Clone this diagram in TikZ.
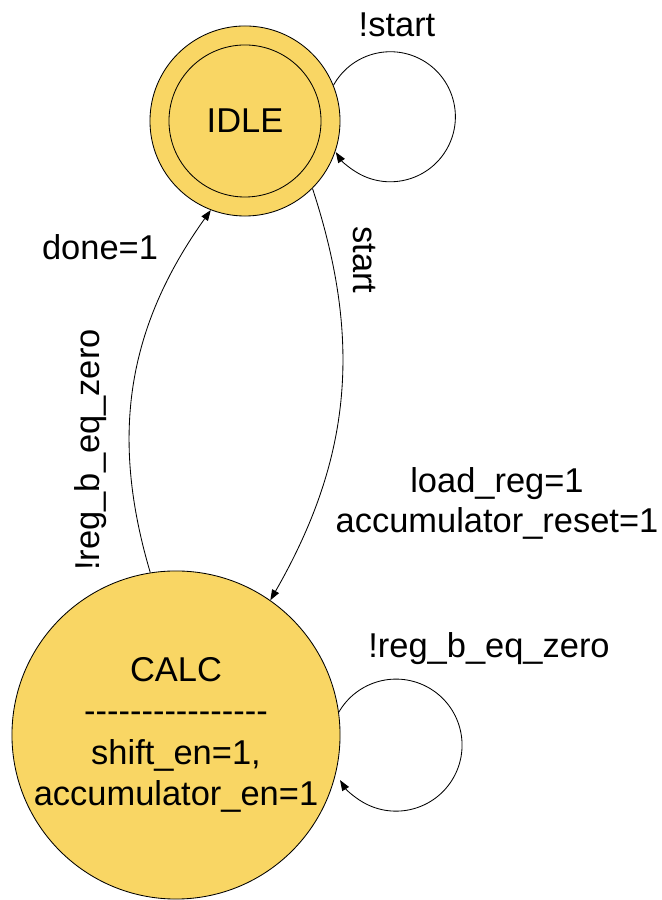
\documentclass[tikz,border=0pt]{standalone}
\usepackage{fontspec}
\setmainfont{Liberation Sans}
\usetikzlibrary{arrows.meta}
\definecolor{stfill}{RGB}{249, 214, 100}
\tikzset{
  state/.style={circle, draw, fill=stfill, line width=0.6pt, inner sep=0pt,
    font=\fontsize{24.5pt}{29.5pt}\selectfont, align=center},
  lbl/.style={inner sep=0pt, font=\fontsize{24.5pt}{28.5pt}\selectfont, align=center},
  trans/.style={line width=0.6pt, -{Triangle[length=7.5pt,width=5.5pt]}},
}
\newcommand{\dashrow}{{-}{-}{-}{-}{-}{-}{-}{-}{-}{-}{-}{-}{-}{-}{-}{-}}

\begin{document}
\begin{tikzpicture}[x=0.025cm, y=0.025cm]
\useasboundingbox (0,0) rectangle (662,900);

\node[state, minimum size=4.75cm] (idle) at (245,779) {};
\node[state, minimum size=3.8cm] (idlein) at (idle.center) {IDLE};
\node[state, minimum size=8.2cm] (calc) at (176,165)
  {CALC\\\dashrow\\shift\_en=1,\\accumulator\_en=1};

\draw[trans] (idle.22) arc[start angle=151, end angle=-147, radius=1.625cm];
\draw[trans] (calc.8.5) arc[start angle=150, end angle=-148, radius=1.65cm];
\draw[trans] (idle.-45) to[bend left=24] (calc.55);
\draw[trans] (calc.99) to[bend left=26] (idle.249);

\node[lbl, anchor=base] (lnostart) at (397,863) {!start};
\node[lbl, anchor=base] (ldone) at (100,640) {done=1};
\node[lbl, rotate=90] (lnotzero) at (91,450) {!reg\_b\_eq\_zero};
\node[lbl, rotate=-90] (lstart) at (364,640) {start};
\node[lbl] (lload) at (497,397) {load\_reg=1\\accumulator\_reset=1};
\node[lbl, anchor=base] (lstay) at (489,242) {!reg\_b\_eq\_zero};
\end{tikzpicture}
\end{document}
